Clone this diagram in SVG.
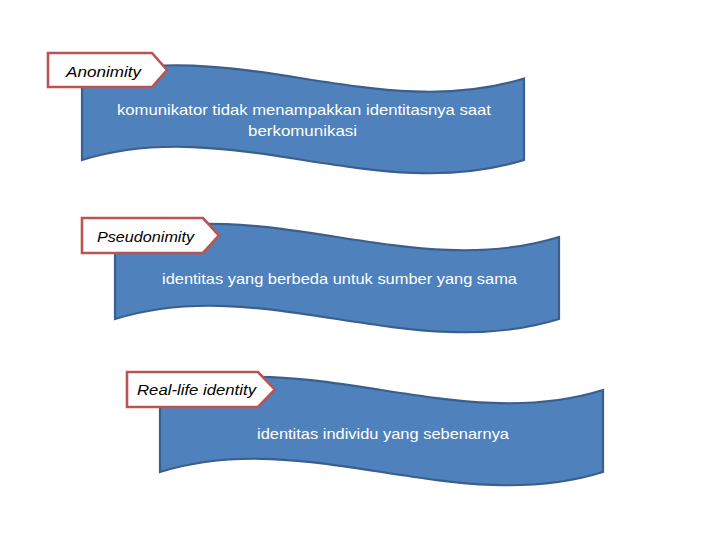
<svg xmlns="http://www.w3.org/2000/svg" width="720" height="540" viewBox="0 0 720 540">
<style>
.wave{fill:#4f81bd;stroke:#3a5f8c;stroke-width:2.2;stroke-linejoin:miter}
.tag{fill:#ffffff;stroke:#bb5450;stroke-width:2.6;stroke-linejoin:miter}
.tagtxt{font-family:"Liberation Sans",Arial,sans-serif;font-style:italic;font-size:15px;fill:#000}
.body{font-family:"Liberation Sans",Arial,sans-serif;font-size:15px;fill:#ffffff}
</style>
<rect width="720" height="540" fill="#ffffff"/>
<g id="wave1">
<path class="wave" d="M82,78.5 C229.3,32.5 376.7,124.5 524,78.5 L524,160 C376.7,206 229.3,114 82,160 Z"/>
<text class="body" x="117" y="115" textLength="374" lengthAdjust="spacingAndGlyphs">komunikator tidak menampakkan identitasnya saat</text>
<text class="body" x="248" y="136" textLength="109" lengthAdjust="spacingAndGlyphs">berkomunikasi</text>
</g>
<g id="label1">
<path class="tag" d="M48,53 H152 L167,70 L152,87 H48 Z"/>
<text class="tagtxt" x="66" y="77" textLength="75" lengthAdjust="spacingAndGlyphs">Anonimity</text>
</g>
<g id="wave2">
<path class="wave" d="M115,237 C263,191 411,283 559,237 L559,319 C411,365 263,273 115,319 Z"/>
<text class="body" x="162" y="284" textLength="355" lengthAdjust="spacingAndGlyphs">identitas yang berbeda untuk sumber yang sama</text>
</g>
<g id="label2">
<path class="tag" d="M82,218 H203 L219,235.5 L203,253 H82 Z"/>
<text class="tagtxt" x="97" y="242" textLength="97" lengthAdjust="spacingAndGlyphs">Pseudonimity</text>
</g>
<g id="wave3">
<path class="wave" d="M160,390 C307.7,344 455.3,436 603,390 L603,472 C455.3,518 307.7,426 160,472 Z"/>
<text class="body" x="257" y="439" textLength="252" lengthAdjust="spacingAndGlyphs">identitas individu yang sebenarnya</text>
</g>
<g id="label3">
<path class="tag" d="M127,372 H258 L275,389.5 L258,407 H127 Z"/>
<text class="tagtxt" x="137" y="395" textLength="119" lengthAdjust="spacingAndGlyphs">Real-life identity</text>
</g>
<g id="connectors"></g>
</svg>
